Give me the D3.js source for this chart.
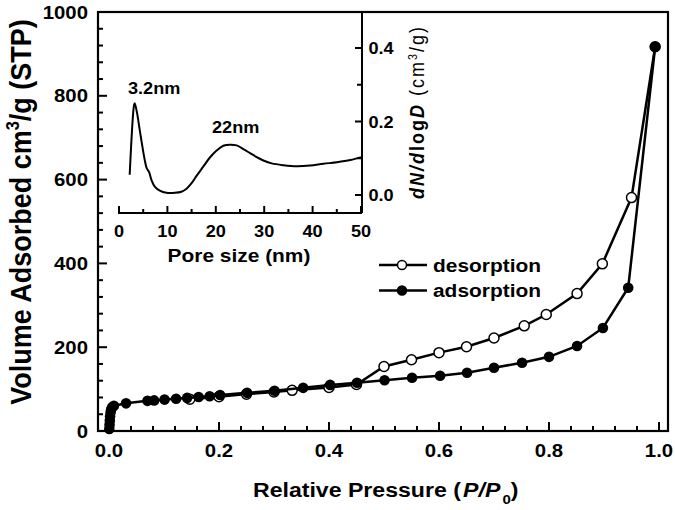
<!DOCTYPE html>
<html><head><meta charset="utf-8">
<script src="https://cdn.jsdelivr.net/npm/d3@7"></script>
<style>
body{margin:0;background:#fff;}
svg{display:block;font-family:"Liberation Sans",Arial,sans-serif;font-weight:bold;}
</style></head><body>
<svg id="chart" width="675" height="510"></svg>
<script>
// ---------- data ----------
const adsP = [0.0005,0.001,0.0015,0.002,0.003,0.004,0.006,0.009,0.031,0.070,0.082,0.101,0.122,0.142,0.163,0.183,0.202,0.251,0.301,0.353,0.402,0.451,0.501,0.551,0.602,0.651,0.700,0.751,0.800,0.851,0.898,0.944,0.993];
const adsV = [5,15,25,35,45,52,57,60,66,72,73,75,77,79,81,83,86,91,96,103,110,115,121,127,132,139,151,163,177,203,246,342,917];
const desP = [0.993,0.950,0.897,0.851,0.795,0.755,0.700,0.650,0.600,0.550,0.500,0.450,0.400,0.333,0.300,0.250,0.200,0.147];
const desV = [917,557,399,328,278,251,222,201,187,170,154,111,104,97,93,88,82,76];
const poreSize = [2.21,3.11,3.25,3.73,4.28,4.83,5.32,5.70,6.22,6.70,7.39,8.43,9.81,11.53,12.91,13.95,14.99,16.02,17.40,18.78,20.17,21.55,22.93,24.31,25.69,27.07,28.45,29.83,31.56,33.98,36.74,39.50,42.27,45.03,47.79,50.0];
const poreDist = [0.055,0.245,0.250,0.223,0.177,0.132,0.095,0.074,0.062,0.041,0.023,0.012,0.006,0.006,0.009,0.017,0.032,0.052,0.077,0.102,0.121,0.134,0.137,0.135,0.125,0.114,0.103,0.094,0.086,0.081,0.078,0.080,0.085,0.089,0.095,0.103];
const xTicks = [0,0.2,0.4,0.6,0.8,1.0];
const xMinorTicks = [0.04,0.08,0.12,0.16,0.24,0.28,0.32,0.36,0.44,0.48,0.52,0.56,0.64,0.68,0.72,0.76,0.84,0.88,0.92,0.96];
const yTicks = [0,200,400,600,800,1000];
const yMinorTicks = [40,80,120,160,240,280,320,360,440,480,520,560,640,680,720,760,840,880,920,960];
const insetXTicks = [0,10,20,30,40,50];
const insetXMinor = [5,15,25,35,45];
const insetYTicks = [0,0.2,0.4];
const insetYMinor = [0.1,0.3];
const legendLabels = ["desorption","adsorption"];
const peakLabels = ["3.2nm","22nm"];

// ---------- setup ----------
const SX = 1.1; // horizontal stretch of the original artwork
const svg = d3.select("#chart");
const x = d3.scaleLinear().domain([-0.02, 1.01636]).range([98, 668]);
const y = d3.scaleLinear().domain([0, 1000]).range([431, 12]);
const ix = d3.scaleLinear().domain([0, 50]).range([119, 361]);
const iy = d3.scaleLinear().domain([0, 0.4]).range([195, 48]);
const X0 = 98, Y0 = 431, TOP = 12, RIGHT = 668;
const insetBottom = 213, insetRight = 362;

// frame
svg.append("rect").attr("x",X0).attr("y",TOP).attr("width",RIGHT-X0).attr("height",Y0-TOP)
  .attr("fill","none").attr("stroke","#000").attr("stroke-width",2.2);

// ticks as simple line elements
function addTick(x1,y1,x2,y2){
  svg.append("line").attr("x1",x1).attr("y1",y1).attr("x2",x2).attr("y2",y2)
    .attr("stroke","#000").attr("stroke-width",2);
}
yMinorTicks.forEach(v=>addTick(X0, y(v), X0+5, y(v)));
yTicks.forEach(v=>addTick(X0, y(v), X0+9, y(v)));
xMinorTicks.forEach(v=>addTick(x(v), Y0, x(v), Y0-5));
xTicks.forEach(v=>addTick(x(v), Y0, x(v), Y0-9));
insetXMinor.forEach(v=>addTick(ix(v), insetBottom, ix(v), insetBottom-4));
insetXTicks.forEach(v=>addTick(ix(v), insetBottom, ix(v), insetBottom-7));
insetYMinor.forEach(v=>addTick(insetRight, iy(v), insetRight-5, iy(v)));
insetYTicks.forEach(v=>addTick(insetRight, iy(v), insetRight-7, iy(v)));
addTick(118, insetBottom, insetRight, insetBottom);
addTick(insetRight, TOP, insetRight, insetBottom);

function label(px, py, fs, anchor, txt){
  return svg.append("text")
    .attr("transform",`translate(${px},${py}) scale(${SX},1)`)
    .attr("font-size",fs).attr("text-anchor",anchor).attr("fill","#000").text(txt);
}
const fmt1 = d3.format(".1f");
yTicks.forEach(v=>label(X0-10, y(v)+6.5, 18.5, "end", String(v)));
xTicks.forEach(v=>label(x(v), 457, 18.5, "middle", fmt1(v)));
insetXTicks.forEach(v=>label(ix(v), 237, 16.5, "middle", String(v)));
insetYTicks.forEach(v=>label(insetRight+6.5, iy(v)+6, 16.5, "start", fmt1(v)));

// inset curve
const poreData = poreSize.map((d,i)=>[d,poreDist[i]]);
svg.append("path").datum(poreData)
  .attr("d", d3.line().x(d=>ix(d[0])).y(d=>iy(d[1])).curve(d3.curveCatmullRom.alpha(0.5)))
  .attr("fill","none").attr("stroke","#000").attr("stroke-width",2);

function stretchedText(px, py, fs, anchor, rotate){
  return svg.append("text")
    .attr("transform",`translate(${px},${py}) scale(${SX},1)` + (rotate?` rotate(${rotate})`:""))
    .attr("font-size",fs).attr("text-anchor",anchor).attr("fill","#000");
}
stretchedText(128, 94, 16.5, "start").text(peakLabels[0]);
stretchedText(212, 133, 16.5, "start").text(peakLabels[1]);
stretchedText(239, 262, 19, "middle").text("Pore size (nm)");

{
  const t = stretchedText(424, 113, 18, "middle", -90)
    .attr("textLength",172).attr("lengthAdjust","spacing");
  t.append("tspan").attr("font-style","italic").text("dN");
  t.append("tspan").attr("font-style","italic").text("/");
  t.append("tspan").attr("font-style","italic").text("d");
  t.append("tspan").text("log");
  t.append("tspan").attr("font-style","italic").text("D");
  t.append("tspan").attr("font-weight","normal").text(" (cm");
  t.append("tspan").attr("font-size","0.6em").attr("dy","-0.6em").attr("font-weight","normal").text("3");
  t.append("tspan").attr("dy","0.36em").attr("font-weight","normal").text("/g)");
}

// main series
const line = d3.line().x(d=>x(d[0])).y(d=>y(d[1]));
const desData = desP.map((d,i)=>[d,desV[i]]);
const adsData = adsP.map((d,i)=>[d,adsV[i]]);
svg.append("path").datum(desData).attr("d",line).attr("fill","none").attr("stroke","#000").attr("stroke-width",2.5);
svg.append("g").selectAll("circle").data(desData).join("circle")
  .attr("cx",d=>x(d[0])).attr("cy",d=>y(d[1])).attr("r",5)
  .attr("fill","#fff").attr("stroke","#000").attr("stroke-width",1.5);
svg.append("path").datum(adsData).attr("d",line).attr("fill","none").attr("stroke","#000").attr("stroke-width",2.5);
svg.append("g").selectAll("circle").data(adsData).join("circle")
  .attr("cx",d=>x(d[0])).attr("cy",d=>y(d[1])).attr("r",5.3)
  .attr("fill","#000");

// legend
legendLabels.forEach((lab,i)=>{
  const ly = 265 + i*25.5;
  svg.append("line").attr("x1",379).attr("x2",427).attr("y1",ly).attr("y2",ly).attr("stroke","#000").attr("stroke-width",2.5);
  svg.append("circle").attr("cx",402).attr("cy",ly).attr("r",4.5)
    .attr("fill", i===0 ? "#fff" : "#000").attr("stroke","#000").attr("stroke-width",1.5);
  stretchedText(433, ly+6.5, 19, "start").text(lab);
});

// axis titles
{
  const t = stretchedText(253, 497, 21, "start");
  t.append("tspan").text("Relative Pressure (");
  t.append("tspan").attr("font-style","italic").attr("dx","2").text("P/P");
  t.append("tspan").attr("font-size","0.65em").attr("dy","0.5em").attr("dx","2").text("0");
  t.append("tspan").attr("dy","-0.33em").text(")");
}
{
  const t = stretchedText(31, 212, 27, "middle", -90);
  t.append("tspan").text("Volume Adsorbed cm");
  t.append("tspan").attr("font-size","0.6em").attr("dy","-0.65em").text("3");
  t.append("tspan").attr("dy","0.39em").text("/g (STP)");
}
</script>
</body></html>
